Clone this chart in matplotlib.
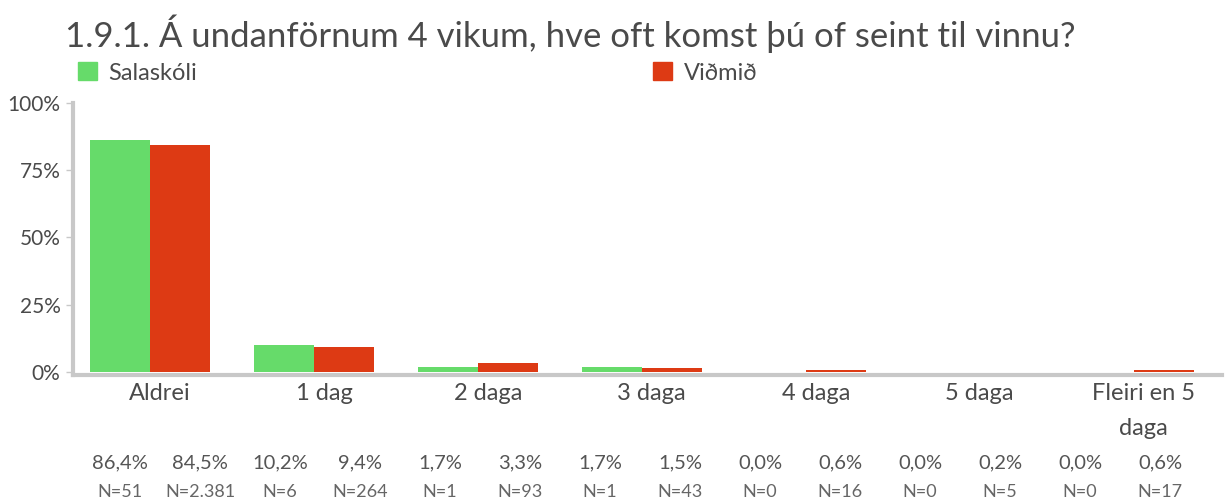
import matplotlib.pyplot as plt
import matplotlib.transforms as mtransforms
from matplotlib.patches import Patch
import numpy as np

plt.rcParams['font.family'] = ['Lato', 'DejaVu Sans']

title = "1.9.1. Á undanförnum 4 vikum, hve oft komst þú of seint til vinnu?"
categories = ["Aldrei", "1 dag", "2 daga", "3 daga", "4 daga", "5 daga", "Fleiri en 5\ndaga"]
series_names = ["Salaskóli", "Viðmið"]
salaskoli = [86.4, 10.2, 1.7, 1.7, 0.0, 0.0, 0.0]
vidmid = [84.5, 9.4, 3.3, 1.5, 0.6, 0.2, 0.6]
salaskoli_n = ["51", "6", "1", "1", "0", "0", "0"]
vidmid_n = ["2.381", "264", "93", "43", "16", "5", "17"]

GREEN = "#66db6a"
RED = "#dd3a14"
TEXT = "#4a4a4a"
SPINE = "#c8c8c8"

fig = plt.figure(figsize=(12.25, 5.01), dpi=100)
ax = fig.add_axes([0.0596, 0.2515, 0.938, 0.543])

x = np.arange(len(categories))
w = 0.366
ax.bar(x - w / 2, salaskoli, width=w, color=GREEN, edgecolor="none", zorder=1)
ax.bar(x + w / 2, vidmid, width=w, color=RED, edgecolor="none", zorder=1)

ax.set_xlim(-0.47, 6.54)
ax.set_ylim(-1.1, 100)
ax.set_yticks([0, 25, 50, 75, 100])
ax.set_yticklabels(["0%", "25%", "50%", "75%", "100%"], fontsize=15, color=TEXT)
ax.tick_params(axis="y", length=5, width=1, color=SPINE, pad=4)
ax.set_xticks(x)
ax.set_xticklabels(categories, fontsize=17, color=TEXT, linespacing=1.8)
ax.tick_params(axis="x", length=0, pad=6)
# labels sit a bit right of the group centre
shift = mtransforms.ScaledTranslation(10 / 100, 0, fig.dpi_scale_trans)
for lab in ax.get_xticklabels():
    lab.set_transform(lab.get_transform() + shift)

for side in ["top", "right"]:
    ax.spines[side].set_visible(False)
for side in ["left", "bottom"]:
    ax.spines[side].set_color(SPINE)
    ax.spines[side].set_linewidth(3)
    ax.spines[side].set_zorder(3)

fig.text(65 / 1225, 1 - 34 / 501, title, fontsize=25, color=TEXT, va="center", ha="left")

# two legend entries, spread apart like the original
for name, color, x0 in [(series_names[0], GREEN, 78), (series_names[1], RED, 653)]:
    fig.legend(handles=[Patch(color=color, label=name)], loc="center left",
               bbox_to_anchor=(x0 / 1225, 1 - 73 / 501), frameon=False,
               fontsize=17, handlelength=0.8, handleheight=0.8, handletextpad=0.5,
               labelcolor=TEXT, borderaxespad=0, borderpad=0)

# table of values under the chart
for i in range(len(categories)):
    for j, (vals, ns) in enumerate([(salaskoli, salaskoli_n), (vidmid, vidmid_n)]):
        col = 2 * i + j
        cx = (120 + 80 * col) / 1225
        pct = f"{vals[i]:.1f}%".replace(".", ",")
        fig.text(cx, 1 - 463 / 501, pct, fontsize=14.5, color="#555555", ha="center", va="center")
        fig.text(cx, 1 - 492 / 501, "N=" + ns[i], fontsize=13, color="#666666", ha="center",
                 va="center")

fig.savefig("out.png", dpi=100)
